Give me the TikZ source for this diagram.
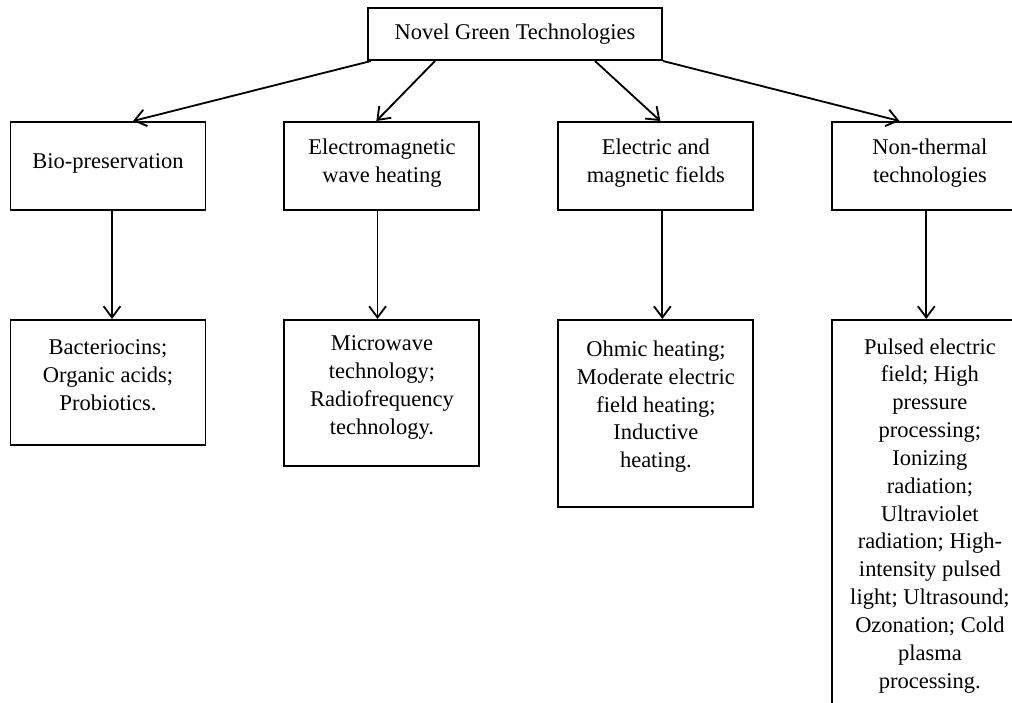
\documentclass[tikz,border=0pt]{standalone}
\usepackage{fontspec}
\setmainfont{Liberation Serif}
\usepackage{tikz}
\usetikzlibrary{arrows.meta,positioning}

% invisible strut that lowers the text block inside a box
\newcommand{\padlast}[1]{\rule[-#1]{0pt}{#1}}

\begin{document}
\begin{tikzpicture}[
    node distance=2.7cm and 1.925cm,
    font=\fontsize{16}{19.8}\selectfont,
    topbox/.style={draw, line width=1.4pt, minimum width=7.35cm, minimum height=1.3cm},
    catbox/.style={draw, line width=1.4pt, align=center, minimum width=4.875cm, minimum height=2.2cm},
    listbox/.style={draw, line width=1.4pt, align=center, minimum width=4.875cm},
    myarrow/.style={-{Straight Barb[length=8pt,width=12pt]}, line width=1.3pt}
]
\path[clip, use as bounding box] (0,0) rectangle (25.3,-17.575);

\node[topbox] (top) at (12.875,-0.85) {Novel Green Technologies};

\node[catbox] (bio) at (2.7,-4.15) {Bio-preservation\padlast{7pt}};
\node[catbox] (em) [right=of bio] {Electromagnetic\\wave heating\padlast{7pt}};
\node[catbox] (emf) [right=of em] {Electric and\\magnetic fields\padlast{7pt}};
\node[catbox] (nt) [right=of emf] {Non-thermal\\technologies\padlast{7pt}};

\node[listbox, minimum height=3.125cm] (bact) [below=of bio]
    {Bacteriocins;\\Organic acids;\\Probiotics.\padlast{11pt}};
\node[listbox, minimum height=3.65cm] (micro) [below=of em]
    {Microwave\\technology;\\Radiofrequency\\technology.\padlast{11pt}};
\node[listbox, minimum height=4.675cm] (ohmic) [below=of emf]
    {Ohmic heating;\\Moderate electric\\field heating;\\Inductive\\heating.\padlast{13pt}};
\node[listbox, minimum height=10.125cm] (pulsed) [below=of nt]
    {Pulsed electric\\field; High\\pressure\\processing;\\Ionizing\\radiation;\\Ultraviolet\\radiation; High-\\intensity pulsed\\light; Ultrasound;\\Ozonation; Cold\\plasma\\processing.\padlast{13pt}};

\draw[myarrow] ([xshift=0.1cm]top.south west) -- ([xshift=0.625cm]bio.north);
\draw[myarrow] ([xshift=-2cm]top.south) -- ([xshift=-0.14cm]em.north);
\draw[myarrow] ([xshift=2cm]top.south) -- ([xshift=0.11cm]emf.north);
\draw[myarrow] (top.south east) -- ([xshift=-0.76cm]nt.north);

\draw[myarrow] ([xshift=0.1cm]bio.south) -- ([xshift=0.1cm]bact.north);
\draw[myarrow] ([xshift=-0.11cm]em.south) -- ([xshift=-0.11cm]micro.north);
\draw[myarrow] ([xshift=0.16cm]emf.south) -- ([xshift=0.16cm]ohmic.north);
\draw[myarrow] ([xshift=-0.09cm]nt.south) -- ([xshift=-0.09cm]pulsed.north);
\end{tikzpicture}
\end{document}
